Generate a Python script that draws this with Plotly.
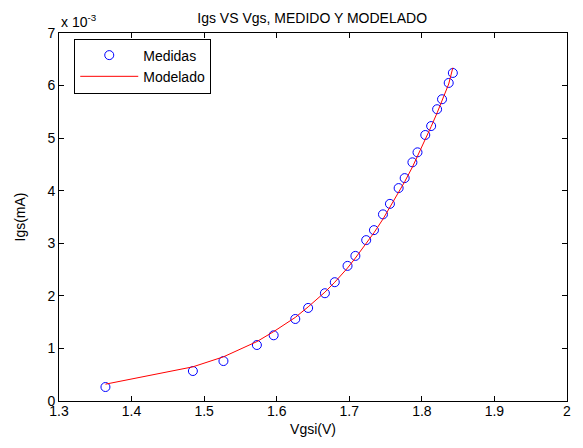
import plotly.graph_objects as go

vgs_medida = [1.364, 1.4845, 1.5266, 1.5727, 1.5958, 1.6256, 1.6433, 1.6664, 1.680, 1.6976,
              1.7084, 1.7233, 1.734, 1.7464, 1.756, 1.768, 1.7763, 1.787, 1.794, 1.8047,
              1.8128, 1.821, 1.8278, 1.837, 1.8427]
igs_medida = [0.266, 0.57, 0.76, 1.065, 1.25, 1.56, 1.77, 2.05, 2.26, 2.57,
              2.76, 3.06, 3.25, 3.55, 3.75, 4.05, 4.24, 4.54, 4.73, 5.06,
              5.23, 5.55, 5.74, 6.05, 6.24]
igs_modelo = [0.32, 0.65, 0.84, 1.13, 1.32, 1.59, 1.79, 2.07, 2.26, 2.53,
              2.72, 3.0, 3.2, 3.46, 3.68, 3.96, 4.17, 4.45, 4.65, 4.97,
              5.22, 5.48, 5.71, 6.03, 6.34]
x_ticks = [1.3, 1.4, 1.5, 1.6, 1.7, 1.8, 1.9, 2.0]
x_tick_labels = ["1.3", "1.4", "1.5", "1.6", "1.7", "1.8", "1.9", "2"]
y_ticks = [0, 1, 2, 3, 4, 5, 6, 7]
y_tick_labels = ["0", "1", "2", "3", "4", "5", "6", "7"]

font = "Liberation Sans, Arial, sans-serif"

fig = go.Figure()
fig.add_trace(go.Scatter(x=vgs_medida, y=igs_medida, mode="markers", name="Medidas",
                         marker=dict(symbol="circle-open", size=9, color="#0000ff",
                                     line=dict(width=1, color="#0000ff"))))
fig.add_trace(go.Scatter(x=vgs_medida, y=igs_modelo, mode="lines", name="Modelado",
                         line=dict(color="#ff0000", width=1)))

axis_common = dict(showgrid=False, zeroline=False, ticks="inside", ticklen=5,
                   tickcolor="black", showline=True, linecolor="black", linewidth=1,
                   mirror="ticks", tickfont=dict(family=font, size=14, color="black"))

fig.update_layout(
    width=575, height=440,
    margin=dict(l=44, r=15, t=25, b=47),
    paper_bgcolor="white", plot_bgcolor="white",
    title=dict(text="Igs VS Vgs, MEDIDO Y MODELADO", x=0.529, xanchor="center",
               y=1 - 10 / 440, yanchor="middle",
               font=dict(family=font, size=14, color="black")),
    xaxis=dict(range=[1.3, 2.0], tickvals=x_ticks, ticktext=x_tick_labels,
               ticklabelstandoff=-3,
               title=dict(text="Vgsi(V)", font=dict(family=font, size=14, color="black"), standoff=6),
               **axis_common),
    yaxis=dict(range=[0, 7], tickvals=y_ticks, ticktext=y_tick_labels,
               title=dict(text="Igs(mA)", font=dict(family=font, size=14, color="black"), standoff=18),
               **axis_common),
    showlegend=True,
    legend=dict(x=0.03, y=0.985, xanchor="left", yanchor="top",
                bgcolor="white", bordercolor="black", borderwidth=1,
                font=dict(family=font, size=14, color="black"),
                itemwidth=58, tracegroupgap=0),
    annotations=[dict(text="x 10<sup>-3</sup>", xref="paper", yref="paper",
                      x=0.0, y=1.0, xanchor="left", yanchor="bottom", yshift=1,
                      showarrow=False, font=dict(family=font, size=14, color="black"))],
)

fig.write_html("out.html")
